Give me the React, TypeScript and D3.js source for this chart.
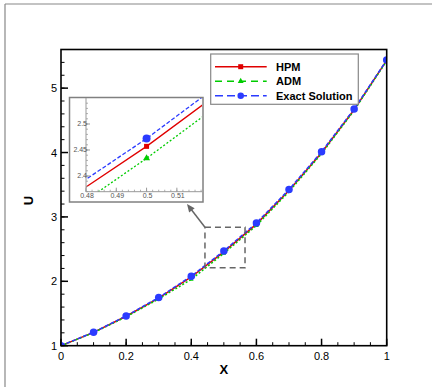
import React from "react";
import * as d3 from "d3";

// values
const xValues = [0, 0.1, 0.2, 0.3, 0.4, 0.5, 0.6, 0.7, 0.8, 0.9, 1];
const exactValues = [1, 1.209, 1.463, 1.748, 2.08, 2.472, 2.906, 3.425, 4.012, 4.676, 5.436];
const hpmValues = [1, 1.206, 1.457, 1.739, 2.067, 2.457, 2.888, 3.41, 3.998, 4.664, 5.43];
const admValues = [1, 1.202, 1.449, 1.727, 2.03, 2.434, 2.866, 3.392, 3.982, 4.653, 5.424];

const xMajorTicks = [0, 0.2, 0.4, 0.6, 0.8, 1];
const yMajorTicks = [1, 2, 3, 4, 5];
const insetXTicks = [0.48, 0.49, 0.5, 0.51];
const insetYTicks = [2.4, 2.45, 2.5];
const zoomBoxX = [0.442, 0.565];
const zoomBoxY = [2.21, 2.84];

const legendItems = [
  { label: "HPM", color: "#e00000", dash: "none", marker: "square" },
  { label: "ADM", color: "#00cc00", dash: "7,5", marker: "triangle" },
  { label: "Exact Solution", color: "#2b3bff", dash: "8,4", marker: "circle" },
];

const W = 432;
const H = 387;
const plot = { left: 61, right: 386.7, top: 49.5, bottom: 345.7 };
const inset = { x0: 69.5, y0: 97.5, x1: 203, y1: 202 };
const insetPlot = { left: 86, right: 202, top: 98, bottom: 191.7 };
const font = "'Liberation Sans', Arial, sans-serif";

const RED = "#e00000";
const GREEN = "#00cc00";
const BLUE = "#2b3bff";

function Marker({ type, x, y, color, s }: { type: string; x: number; y: number; color: string; s: number }) {
  if (type === "square") return <rect x={x - s / 2} y={y - s / 2} width={s} height={s} fill={color} />;
  if (type === "triangle") {
    const p = d3.symbol().type(d3.symbolTriangle).size(s * s * 0.6)();
    return <path d={p || ""} transform={`translate(${x},${y})`} fill={color} />;
  }
  return <circle cx={x} cy={y} r={s / 2} fill={color} />;
}

export default function App() {
  const x = d3.scaleLinear().domain([0, 1]).range([plot.left, plot.right]);
  const y = d3.scaleLinear().domain([1, 5.6]).range([plot.bottom, plot.top]);

  const ix = d3.scaleLinear().domain([0.48, 0.5183]).range([insetPlot.left, insetPlot.right]);
  const iy = d3.scaleLinear().domain([2.3698, 2.55]).range([insetPlot.bottom, insetPlot.top]);

  const series = [
    { vals: hpmValues, color: RED, dash: "none", marker: "square", ms: 5 },
    { vals: admValues, color: GREEN, dash: "2,2", marker: "triangle", ms: 6 },
    { vals: exactValues, color: BLUE, dash: "4,2", marker: "circle", ms: 8 },
  ];

  const mkLine = (sx: any, sy: any) =>
    d3
      .line<number>()
      .x((_, i) => sx(xValues[i]))
      .y((d) => sy(d));

  const mainLine = mkLine(x, y);
  const insetLine = mkLine(ix, iy);

  const xMinor = d3.range(0, 1.0001, 0.05);
  const yMinor = d3.range(1, 5.6001, 0.2);
  const ixMinor = d3.range(0.48, 0.5183, 0.002);
  const iyMinor = d3.range(2.37, 2.55, 0.01);

  // arrow from zoom box corner towards the inset
  const ax0 = x(zoomBoxX[0]);
  const ay0 = y(zoomBoxY[1]);
  const ax1 = inset.x1 - 16;
  const ay1 = inset.y1 + 2;
  const ang = Math.atan2(ay1 - ay0, ax1 - ax0);
  const ah = 8;
  const aw = 3.5;
  const arrowHead = [
    [ax1, ay1],
    [ax1 - ah * Math.cos(ang) + aw * Math.sin(ang), ay1 - ah * Math.sin(ang) - aw * Math.cos(ang)],
    [ax1 - ah * Math.cos(ang) - aw * Math.sin(ang), ay1 - ah * Math.sin(ang) + aw * Math.cos(ang)],
  ]
    .map((p) => p.join(","))
    .join(" ");

  return (
    <svg
      width={W}
      height={H}
      style={{ position: "absolute", left: 0, top: 0, background: "#fff" }}
      fontFamily={font}
    >
      <defs>
        <clipPath id="mainClip">
          <rect x={plot.left} y={plot.top} width={plot.right - plot.left} height={plot.bottom - plot.top} />
        </clipPath>
        <clipPath id="insetClip">
          <rect
            x={insetPlot.left}
            y={insetPlot.top}
            width={insetPlot.right - insetPlot.left}
            height={insetPlot.bottom - insetPlot.top}
          />
        </clipPath>
      </defs>

      {/* outer figure frame */}
      <line x1={5} y1={4} x2={W} y2={4} stroke="#888" strokeWidth={1.2} />
      <line x1={5} y1={4} x2={5} y2={H} stroke="#888" strokeWidth={1.2} />

      {/* ticks main */}
      {xMinor.map((t, i) => (
        <line key={"xm" + i} x1={x(t)} x2={x(t)} y1={plot.bottom} y2={plot.bottom - 3.5} stroke="#000" strokeWidth={1} />
      ))}
      {xMajorTicks.map((t) => (
        <line key={"xM" + t} x1={x(t)} x2={x(t)} y1={plot.bottom} y2={plot.bottom - 7} stroke="#000" strokeWidth={1.5} />
      ))}
      {yMinor.map((t, i) => (
        <line key={"ym" + i} x1={plot.left} x2={plot.left + 3.5} y1={y(t)} y2={y(t)} stroke="#000" strokeWidth={1} />
      ))}
      {yMajorTicks.map((t) => (
        <line key={"yM" + t} x1={plot.left} x2={plot.left + 7} y1={y(t)} y2={y(t)} stroke="#000" strokeWidth={1.5} />
      ))}

      {/* tick labels */}
      {xMajorTicks.map((t) => (
        <text key={"xl" + t} x={x(t)} y={plot.bottom + 14} textAnchor="middle" fontSize={11}>
          {d3.format("~g")(t)}
        </text>
      ))}
      {yMajorTicks.map((t) => (
        <text key={"yl" + t} x={plot.left - 4} y={y(t) + 4} textAnchor="end" fontSize={11}>
          {t}
        </text>
      ))}
      <text x={(plot.left + plot.right) / 2} y={plot.bottom + 28} textAnchor="middle" fontSize={13} fontWeight="bold">
        X
      </text>
      <text
        transform={`translate(${33},${(plot.top + plot.bottom) / 2 + 3}) rotate(-90)`}
        textAnchor="middle"
        fontSize={13}
        fontWeight="bold"
      >
        U
      </text>

      {/* main series */}
      <g clipPath="url(#mainClip)">
        {series.map((s) => (
          <path
            key={s.color}
            d={mainLine(s.vals) || ""}
            fill="none"
            stroke={s.color}
            strokeWidth={1.5}
            strokeDasharray={s.dash}
          />
        ))}
        {series.map((s) =>
          s.vals.map((v, i) => (
            <Marker
              key={s.color + i}
              type={s.marker}
              x={x(xValues[i])}
              y={y(v)}
              color={s.color}
              s={s.marker === "circle" ? 7.5 : 4}
            />
          ))
        )}
      </g>

      {/* zoom box */}
      <rect
        x={x(zoomBoxX[0])}
        y={y(zoomBoxY[1])}
        width={x(zoomBoxX[1]) - x(zoomBoxX[0])}
        height={y(zoomBoxY[0]) - y(zoomBoxY[1])}
        fill="none"
        stroke="#666"
        strokeWidth={1.5}
        strokeDasharray="6,4"
      />
      <line x1={ax0} y1={ay0} x2={ax1 - 6 * Math.cos(ang)} y2={ay1 - 6 * Math.sin(ang)} stroke="#666" strokeWidth={1.5} />
      <polygon points={arrowHead} fill="#666" />

      {/* plot border */}
      <rect
        x={plot.left}
        y={plot.top}
        width={plot.right - plot.left}
        height={plot.bottom - plot.top}
        fill="none"
        stroke="#000"
        strokeWidth={1.6}
      />

      {/* inset */}
      <rect
        x={inset.x0}
        y={inset.y0}
        width={inset.x1 - inset.x0}
        height={inset.y1 - inset.y0}
        fill="#fff"
        stroke="#808080"
        strokeWidth={1.5}
      />
      <g clipPath="url(#insetClip)">
        {series.map((s) => (
          <path
            key={"i" + s.color}
            d={insetLine(s.vals) || ""}
            fill="none"
            stroke={s.color}
            strokeWidth={1.3}
            strokeDasharray={s.dash}
          />
        ))}
        {series.map((s) =>
          s.vals.map((v, i) => (
            <Marker key={"im" + s.color + i} type={s.marker} x={ix(xValues[i])} y={iy(v)} color={s.color} s={s.ms} />
          ))
        )}
      </g>
      <line x1={insetPlot.left} x2={insetPlot.left} y1={insetPlot.top} y2={insetPlot.bottom} stroke="#999" strokeWidth={1} />
      <line x1={insetPlot.left} x2={insetPlot.right} y1={insetPlot.bottom} y2={insetPlot.bottom} stroke="#999" strokeWidth={1} />
      {ixMinor.map((t, i) => (
        <line key={"ixm" + i} x1={ix(t)} x2={ix(t)} y1={insetPlot.bottom} y2={insetPlot.bottom - 2} stroke="#999" strokeWidth={0.8} />
      ))}
      {insetXTicks.map((t) => (
        <line key={"ixM" + t} x1={ix(t)} x2={ix(t)} y1={insetPlot.bottom} y2={insetPlot.bottom - 4} stroke="#999" strokeWidth={1} />
      ))}
      {iyMinor.map((t, i) => (
        <line key={"iym" + i} x1={insetPlot.left} x2={insetPlot.left + 2} y1={iy(t)} y2={iy(t)} stroke="#999" strokeWidth={0.8} />
      ))}
      {insetYTicks.map((t) => (
        <line key={"iyM" + t} x1={insetPlot.left} x2={insetPlot.left + 4} y1={iy(t)} y2={iy(t)} stroke="#999" strokeWidth={1} />
      ))}
      {insetXTicks.map((t) => (
        <text key={"ixl" + t} x={ix(t) + 1} y={insetPlot.bottom + 6.5} textAnchor="middle" fontSize={7} fill="#555">
          {d3.format("~g")(t)}
        </text>
      ))}
      {insetYTicks.map((t) => (
        <text key={"iyl" + t} x={insetPlot.left + 1} y={iy(t) + 2.5} textAnchor="end" fontSize={7} fill="#555">
          {d3.format("~g")(t)}
        </text>
      ))}

      {/* legend */}
      <rect x={210.7} y={54} width={147.6} height={50.3} fill="#fff" stroke="#888" strokeWidth={1.2} />
      {legendItems.map((it, i) => {
        const ly = 66.7 + i * 14.5;
        return (
          <g key={it.label}>
            <line x1={215} x2={266.7} y1={ly} y2={ly} stroke={it.color} strokeWidth={1.5} strokeDasharray={it.dash} />
            <Marker type={it.marker} x={240.7} y={ly} color={it.color} s={it.marker === "circle" ? 6.5 : 5} />
            <text x={276} y={ly + 4} fontSize={11} fontWeight="bold">
              {it.label}
            </text>
          </g>
        );
      })}
    </svg>
  );
}
